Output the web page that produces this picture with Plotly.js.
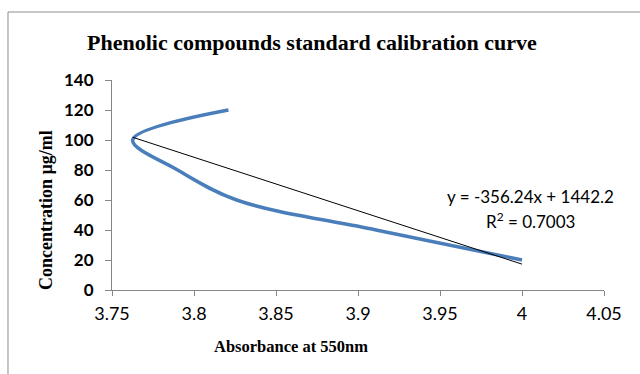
<!DOCTYPE html>
<html>
<head>
<meta charset="utf-8">
<script src="https://cdn.plot.ly/plotly-3.0.1.min.js"></script>
<style>
html,body{margin:0;padding:0;background:#fff;}
#chart{width:640px;height:374px;}
</style>
</head>
<body>
<div id="chart"></div>
<script>
// Data
const absorbance = [4.0, 3.911, 3.826, 3.790, 3.7626, 3.821];
const concentration = [20, 40, 60, 80, 100, 120];
const trendSlope = [-356.24];
const trendIntercept = [1442.2];
const xTicks = [3.75, 3.8, 3.85, 3.9, 3.95, 4, 4.05];
const xTickText = ['3.75', '3.8', '3.85', '3.9', '3.95', '4', '4.05'];
const yTicks = [0, 20, 40, 60, 80, 100, 120, 140];

const xMin = Math.min(...absorbance), xMax = Math.max(...absorbance);
const trendX = [xMin, xMax];
const trendY = trendX.map(v => trendSlope[0] * v + trendIntercept[0]);

const traces = [
  {
    x: absorbance, y: concentration, type: 'scatter', mode: 'lines',
    line: {color: '#4a7ebb', width: 3.5, shape: 'spline', smoothing: 1},
    hoverinfo: 'skip', cliponaxis: false
  },
  {
    x: trendX, y: trendY, type: 'scatter', mode: 'lines',
    line: {color: '#000000', width: 1},
    hoverinfo: 'skip'
  }
];

const serif = 'Liberation Serif, serif';
const sans = 'Lato, Liberation Sans, sans-serif';

const layout = {
  width: 640, height: 374,
  margin: {l: 112, r: 36, t: 80, b: 84},
  paper_bgcolor: '#ffffff', plot_bgcolor: '#ffffff',
  showlegend: false,
  title: {
    text: '<b>Phenolic compounds standard calibration curve</b>',
    font: {family: serif, size: 22, color: '#000'},
    x: 0.4065, xref: 'paper', xanchor: 'center',
    y: 0.888, yref: 'container', yanchor: 'middle'
  },
  xaxis: {
    range: [3.75, 4.05], tickvals: xTicks, ticktext: xTickText,
    showgrid: false, zeroline: false,
    showline: true, linecolor: '#868686', linewidth: 1,
    ticks: 'outside', ticklen: 5, tickcolor: '#868686',
    ticklabelstandoff: 2,
    tickfont: {family: sans, size: 18, color: '#000'}
  },
  yaxis: {
    range: [0, 140], tickvals: yTicks,
    showgrid: false, zeroline: false,
    showline: true, linecolor: '#868686', linewidth: 1,
    ticks: 'outside', ticklen: 6, tickcolor: '#868686',
    ticklabelstandoff: 8,
    tickfont: {family: sans, size: 17, color: '#000', weight: 'bold'}
  },
  annotations: [
    {
      text: '<b>Concentration µg/ml</b>', xref: 'paper', yref: 'paper',
      x: -0.134, y: 0.381, xanchor: 'center', yanchor: 'middle', textangle: -90,
      showarrow: false, font: {family: serif, size: 18, color: '#000'}
    },
    {
      text: '<b>Absorbance at 550nm</b>', xref: 'paper', yref: 'paper',
      x: 0.364, y: -0.271, xanchor: 'center', yanchor: 'middle',
      showarrow: false, font: {family: serif, size: 16.5, color: '#000'}
    },
    {
      text: 'y = -356.24x + 1442.2', xref: 'paper', yref: 'paper',
      x: 0.85, y: 0.443, xanchor: 'center', yanchor: 'middle', showarrow: false,
      font: {family: sans, size: 17, color: '#000'}
    },
    {
      text: 'R<sup>2</sup> = 0.7003', xref: 'paper', yref: 'paper',
      x: 0.85, y: 0.333, xanchor: 'center', yanchor: 'middle', showarrow: false,
      font: {family: sans, size: 17, color: '#000'}
    }
  ],
  shapes: [
    {type: 'rect', xref: 'paper', yref: 'paper', x0: -0.2114, x1: 1.3, y0: -0.7, y1: 1.3238,
     line: {color: '#8c8c8c', width: 1}, fillcolor: 'rgba(0,0,0,0)', layer: 'below'}
  ]
};

Plotly.newPlot('chart', traces, layout, {staticPlot: true, displayModeBar: false});
</script>
</body>
</html>
